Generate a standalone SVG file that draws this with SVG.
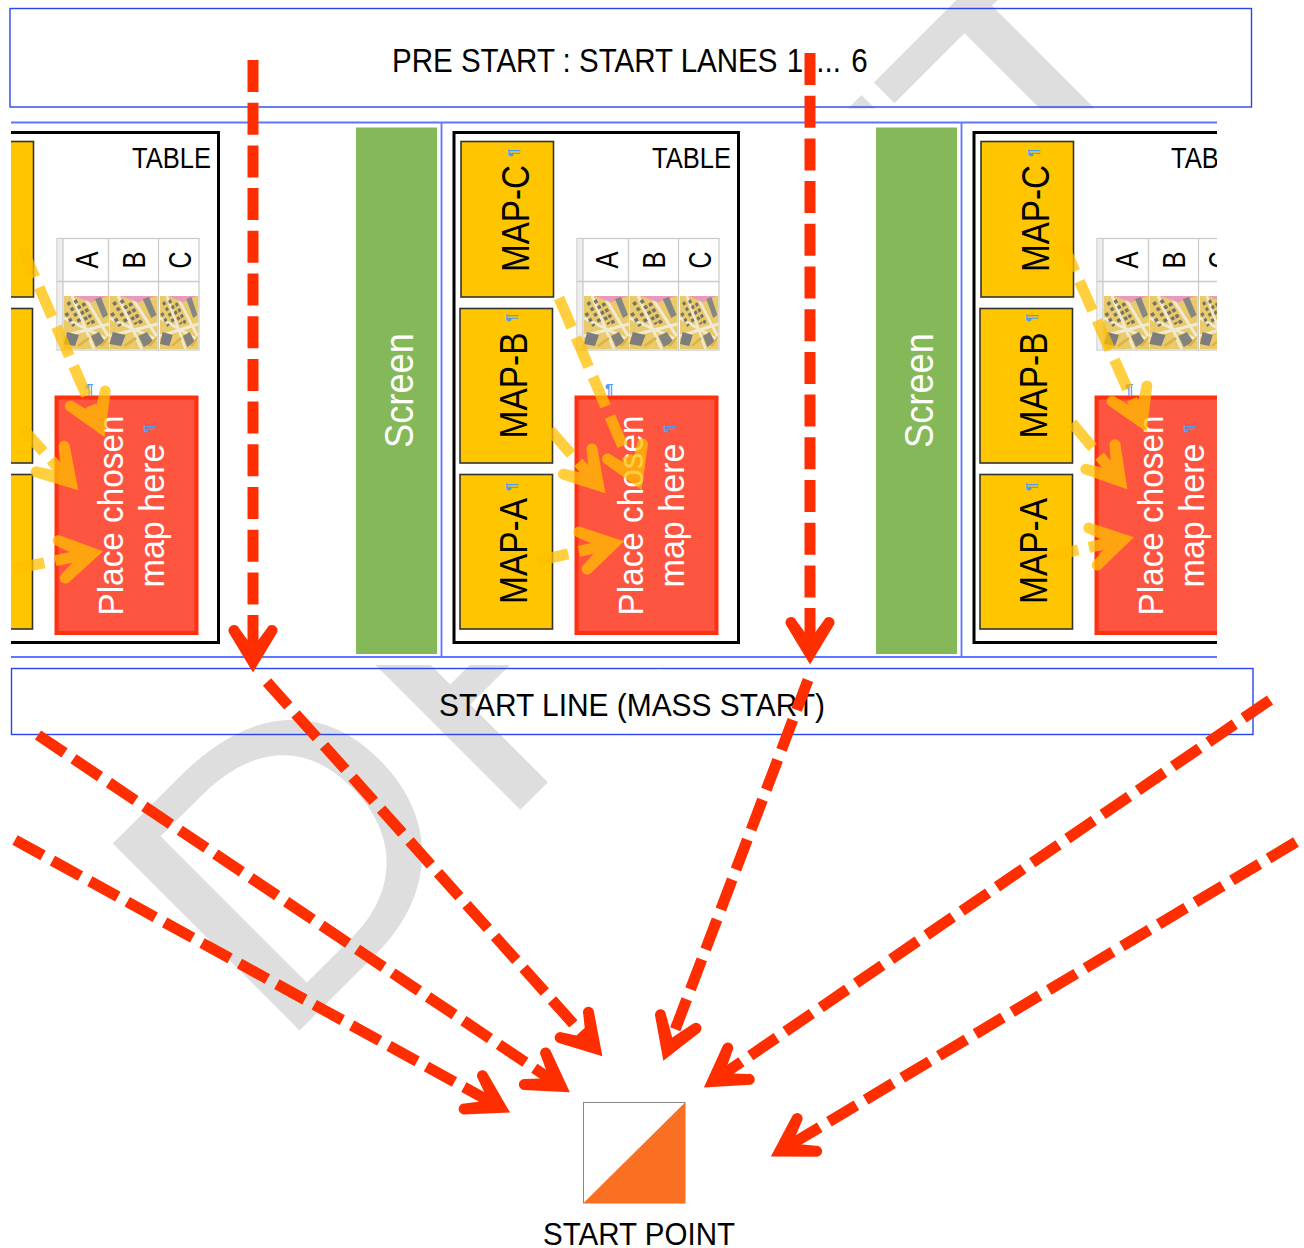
<svg xmlns="http://www.w3.org/2000/svg" xmlns:xlink="http://www.w3.org/1999/xlink" width="1304" height="1248" viewBox="0 0 1304 1248">
<style>
text{font-family:"Liberation Sans",Arial,sans-serif;fill:#000}
.box{fill:none;stroke:#2a45f0;stroke-width:1.4}
.lane{fill:none;stroke:#5d76ff;stroke-width:1.8}
.tbl{fill:#fff;stroke:#000;stroke-width:3}
.map{fill:#ffc600;stroke:#333;stroke-width:1.6}
.mt{font-size:38px}
.tt{font-size:30px}
.hd{font-size:32px}
.grid{fill:none;stroke:#cbcbcb;stroke-width:1.3}
.red{fill:#fd5540;stroke:#ff3010;stroke-width:4}
.wt{font-size:35px;fill:#fff}
.scr{fill:#84b858}
.st{font-size:40px;fill:#fff}
.lb{font-size:32px}
.pil{font-size:15px;font-weight:bold;fill:#4b9df2}
.red-a{fill:none;stroke:#ff2e00;stroke-width:11;stroke-dasharray:32 10.7}
.org-a{fill:none;stroke:#ffbf00;stroke-width:11;stroke-dasharray:32 11}
.org-g{opacity:.75}
</style>
<defs>
<clipPath id="panelClip"><rect x="11" y="109" width="1206" height="556"/></clipPath>
<filter id="soft" x="-5%" y="-5%" width="110%" height="110%"><feGaussianBlur stdDeviation="0.6"/></filter>
<path id="headShape" d="M25,0L-14.7,24A5.5,5.5 0 0 1 -19.3,14L0,0L-19.3,-14A5.5,5.5 0 0 1 -14.7,-24Z"/>
<marker id="headRed" markerUnits="userSpaceOnUse" orient="auto" overflow="visible" refX="0" refY="0" markerWidth="1" markerHeight="1"><use href="#headShape" fill="#ff2e00"/></marker>
<marker id="headOrg" markerUnits="userSpaceOnUse" orient="auto" overflow="visible" refX="0" refY="0" markerWidth="1" markerHeight="1"><use href="#headShape" fill="#ffbf00"/></marker>
<g id="thumb" filter="url(#soft)">
<rect width="45" height="53" fill="#e9cb6c"/>
<path d="M0 22L45 44M8 0L30 53M0 40L45 28M20 0L44 40" stroke="#f1e9d2" stroke-width="3" fill="none"/>
<path d="M4 6L17 28M11 4L25 28M19 7L31 30M2 17L10 30" stroke="#77756a" stroke-width="3.500" stroke-dasharray="3.500 3" fill="none"/>
<polygon points="10,0 43,0 27,6.500" fill="#e99abb"/>
<polygon points="31,3 37,1 44,19 39,22" fill="#868684"/>
<polygon points="3,36 15,39 11,50 0,48" fill="#7d7d7d"/>
<polygon points="27,40 35,36 41,46 32,51" fill="#83837b"/>
<path d="M14 50L25 42M37 50L44 42" stroke="#e0b040" stroke-width="2.500" fill="none"/>
</g>
<g id="sheet">
<rect x="577" y="238.500" width="142" height="111.500" fill="#fff" class="grid"/>
<rect x="577.500" y="239" width="5.500" height="110.500" fill="#eee"/>
<path class="grid" d="M583 238.500V350M628.500 238.500V350M678.500 238.500V350M577 281.500H719"/>
<use href="#thumb" transform="translate(584 296)"/>
<use href="#thumb" transform="translate(629.500 296) scale(1.07 1)"/>
<use href="#thumb" transform="translate(680 296) scale(.85 1)"/>
<text class="hd" textLength="17" lengthAdjust="spacingAndGlyphs" transform="translate(617.500 268.500) rotate(-90)">A</text>
<text class="hd" textLength="17" lengthAdjust="spacingAndGlyphs" transform="translate(665 268.500) rotate(-90)">B</text>
<text class="hd" textLength="17" lengthAdjust="spacingAndGlyphs" transform="translate(711 268.500) rotate(-90)">C</text>
</g>
</defs>
<rect width="1304" height="1248" fill="#fff"/>
<text id="watermark" transform="translate(275.300 1054.700) rotate(-45) scale(1.09 1)" dx="0 9 -36 0 -8" style="font-size:384px;fill:#dedede">DRAFT</text>
<rect x="0" y="108.500" width="1304" height="556.500" fill="#fff"/>

<g id="pre-start">
<rect class="box" x="10" y="8.500" width="1241.500" height="98.500"/>
<text class="lb" transform="translate(392 72) scale(.895 1)" style="font-size:33px"><tspan x="0">PRE START : START LANES</tspan><tspan x="441">1</tspan><tspan x="474">...</tspan><tspan x="513">6</tspan></text>
</g>

<g clip-path="url(#panelClip)">
<g id="lanes">
<path class="lane" d="M11 122.500H1217M11 657H1217M441.500 122.500V657M961.500 122.500V657"/>
</g>

<g id="cell-left" transform="translate(-520 0)">
<rect class="tbl" x="454" y="132.500" width="284.500" height="510"/>
<rect class="map" x="461" y="141.500" width="92.500" height="155.500"/>
<rect class="map" x="460" y="308.500" width="92.500" height="154.500"/>
<rect class="map" x="460" y="474.500" width="92.500" height="154.500"/>
<text class="tt" x="652" y="168" textLength="79" lengthAdjust="spacingAndGlyphs">TABLE</text>
<use href="#sheet"/>
<rect class="red" x="576.500" y="397.500" width="140" height="235.500"/>
<text class="wt" transform="translate(643 615.500) rotate(-90)" textLength="200" lengthAdjust="spacingAndGlyphs">Place chosen</text>
<text class="wt" transform="translate(684 587.500) rotate(-90)" textLength="144" lengthAdjust="spacingAndGlyphs">map here</text>
<text class="pil" x="605" y="394">¶</text>
<text class="pil" transform="translate(674 433) rotate(-90)">¶</text>
</g>

<g id="screen-1">
<rect class="scr" x="356" y="127.500" width="81" height="526.500"/>
<text class="st" transform="translate(413 448) rotate(-90)" textLength="115" lengthAdjust="spacingAndGlyphs">Screen</text>
</g>

<g id="cell-middle">
<rect class="tbl" x="454" y="132.500" width="284.500" height="510"/>
<rect class="map" x="461" y="141.500" width="92.500" height="155.500"/>
<text class="mt" transform="translate(528.500 272) rotate(-90)" textLength="107" lengthAdjust="spacingAndGlyphs">MAP-C</text>
<text class="pil" transform="translate(518 157) rotate(-90)">¶</text>
<rect class="map" x="460" y="308.500" width="92.500" height="154.500"/>
<text class="mt" transform="translate(527 438.500) rotate(-90)" textLength="106" lengthAdjust="spacingAndGlyphs">MAP-B</text>
<text class="pil" transform="translate(516 322) rotate(-90)">¶</text>
<rect class="map" x="460" y="474.500" width="92.500" height="154.500"/>
<text class="mt" transform="translate(527 604) rotate(-90)" textLength="106" lengthAdjust="spacingAndGlyphs">MAP-A</text>
<text class="pil" transform="translate(516 491) rotate(-90)">¶</text>
<text class="tt" x="652" y="168" textLength="79" lengthAdjust="spacingAndGlyphs">TABLE</text>
<use href="#sheet"/>
<rect class="red" x="576.500" y="397.500" width="140" height="235.500"/>
<text class="wt" transform="translate(643 615.500) rotate(-90)" textLength="200" lengthAdjust="spacingAndGlyphs">Place chosen</text>
<text class="wt" transform="translate(684 587.500) rotate(-90)" textLength="144" lengthAdjust="spacingAndGlyphs">map here</text>
<text class="pil" x="605" y="394">¶</text>
<text class="pil" transform="translate(674 433) rotate(-90)">¶</text>
</g>

<g id="screen-2">
<rect class="scr" x="876" y="127.500" width="81" height="526.500"/>
<text class="st" transform="translate(933 448) rotate(-90)" textLength="115" lengthAdjust="spacingAndGlyphs">Screen</text>
</g>

<g id="cell-right" transform="translate(520 0)">
<rect class="tbl" x="454" y="132.500" width="284.500" height="510"/>
<rect class="map" x="461" y="141.500" width="92.500" height="155.500"/>
<text class="mt" transform="translate(528.500 272) rotate(-90)" textLength="107" lengthAdjust="spacingAndGlyphs">MAP-C</text>
<text class="pil" transform="translate(518 157) rotate(-90)">¶</text>
<rect class="map" x="460" y="308.500" width="92.500" height="154.500"/>
<text class="mt" transform="translate(527 438.500) rotate(-90)" textLength="106" lengthAdjust="spacingAndGlyphs">MAP-B</text>
<text class="pil" transform="translate(516 322) rotate(-90)">¶</text>
<rect class="map" x="460" y="474.500" width="92.500" height="154.500"/>
<text class="mt" transform="translate(527 604) rotate(-90)" textLength="106" lengthAdjust="spacingAndGlyphs">MAP-A</text>
<text class="pil" transform="translate(516 491) rotate(-90)">¶</text>
<text class="tt" x="651" y="168" textLength="79" lengthAdjust="spacingAndGlyphs">TABLE</text>
<use href="#sheet"/>
<rect class="red" x="576.500" y="397.500" width="140" height="235.500"/>
<text class="wt" transform="translate(643 615.500) rotate(-90)" textLength="200" lengthAdjust="spacingAndGlyphs">Place chosen</text>
<text class="wt" transform="translate(684 587.500) rotate(-90)" textLength="144" lengthAdjust="spacingAndGlyphs">map here</text>
<text class="pil" x="605" y="394">¶</text>
<text class="pil" transform="translate(674 433) rotate(-90)">¶</text>
</g>
</g>

<g id="start-line">
<rect class="box" x="11.500" y="668.500" width="1241.500" height="66"/>
<text class="lb" x="439" y="716" textLength="386" lengthAdjust="spacingAndGlyphs">START LINE (MASS START)</text>
</g>

<g id="start-point">
<rect x="583.500" y="1102.500" width="101.500" height="100.500" fill="#fff" stroke="#888" stroke-width="1"/>
<polygon points="583.500,1203 685,1102.500 685,1203" fill="#f97022"/>
<text class="lb" x="543" y="1245" textLength="192" lengthAdjust="spacingAndGlyphs">START POINT</text>
</g>

<g id="connectors">
<g class="org-g"><path class="org-a" marker-end="url(#headOrg)" d="M13 569L78.500 556"/></g>
<g class="org-g"><path class="org-a" marker-end="url(#headOrg)" d="M22 428L61.600 471.700"/></g>
<g class="org-g"><path class="org-a" marker-end="url(#headOrg)" d="M22 248L94.600 414.200"/></g>
<g class="org-g"><path class="org-a" marker-end="url(#headOrg)" d="M537 561L599.600 546.800"/></g>
<g class="org-g"><path class="org-a" marker-end="url(#headOrg)" d="M550 430L588.900 474.400"/></g>
<g class="org-g"><path class="org-a" marker-end="url(#headOrg)" d="M559 298L631.700 467.100"/></g>
<g class="org-g"><path class="org-a" marker-end="url(#headOrg)" d="M1047 557L1109.600 542.800"/></g>
<g class="org-g"><path class="org-a" marker-end="url(#headOrg)" d="M1072 423L1111.300 470"/></g>
<g class="org-g"><path class="org-a" marker-end="url(#headOrg)" d="M1062 242L1136.400 409.200"/></g>
<path class="red-a" marker-end="url(#headRed)" d="M253 60V647.500"/>
<path class="red-a" marker-end="url(#headRed)" d="M810 53V639.500"/>
<path class="red-a" marker-end="url(#headRed)" d="M267 682L585.700 1037.600"/>
<path class="red-a" marker-end="url(#headRed)" d="M808 680L672.200 1037.400"/>
<path class="red-a" marker-end="url(#headRed)" d="M1270 700L724.500 1073.300"/>
<path class="red-a" marker-end="url(#headRed)" d="M1296 842L792.300 1143.600"/>
<path class="red-a" marker-end="url(#headRed)" d="M38 735L549.100 1078.200"/>
<path class="red-a" marker-end="url(#headRed)" d="M15 840L488.200 1100.500"/>
</g>
</svg>
